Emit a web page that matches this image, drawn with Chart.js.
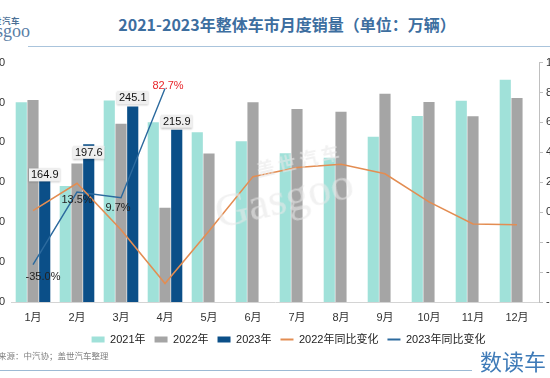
<!DOCTYPE html>
<html><head><meta charset="utf-8">
<script src="https://cdn.jsdelivr.net/npm/chart.js@4.4.1/dist/chart.umd.min.js"></script>
<style>
html,body{margin:0;padding:0;width:550px;height:378px;overflow:hidden;background:#fff;}
body{position:relative;font-family:"Noto Sans CJK SC",sans-serif;}
#wrap{position:absolute;left:-30px;top:50px;width:637px;height:305px;}
#title{position:absolute;left:0;width:574px;top:12px;line-height:24px;text-align:center;font-weight:bold;font-size:16px;color:#3d6e9f;white-space:nowrap;}
#tline{position:absolute;left:28px;right:0;top:46px;height:1px;background:#aac4dc;}
#logo1{position:absolute;left:-16px;top:14px;font-size:8.5px;font-weight:bold;color:#4b6f96;letter-spacing:0.5px;white-space:nowrap;}
#logo2{position:absolute;left:-25px;top:21px;font-family:"Liberation Serif",serif;font-size:18px;color:#5a7ea6;white-space:nowrap;line-height:20px;}
#src{position:absolute;left:-2px;top:349px;font-size:8.5px;color:#808080;white-space:nowrap;}
#fline{position:absolute;left:0;width:472px;top:370px;height:1px;background:#9dbad4;}
#brand{position:absolute;left:480px;top:348px;font-size:22px;color:#3f7bb8;white-space:nowrap;line-height:24px;}
#wm{position:absolute;left:205px;top:168px;transform:rotate(-13deg);transform-origin:left top;color:rgba(232,232,232,0.6);white-space:nowrap;pointer-events:none;}
#wm .a{font-size:18px;font-weight:bold;margin-left:50px;letter-spacing:4px;}
#wm .b{font-family:"Liberation Serif",serif;font-size:46px;line-height:42px;}
</style></head>
<body>
<div id="logo1">盖世汽车</div>
<div id="logo2">Gasgoo</div>
<div id="title">2021-2023年整体车市月度销量（单位：万辆）</div>
<div id="tline"></div>
<div id="wrap"><canvas id="c" width="637" height="305"></canvas></div>
<div id="wm"><div class="a">盖世汽车</div><div class="b">Gasgoo</div></div>
<div id="src">来源：中汽协；盖世汽车整理</div>
<div id="fline"></div>
<div id="brand">数读车</div>
<script>
const months = ['1月','2月','3月','4月','5月','6月','7月','8月','9月','10月','11月','12月'];
const sales2021 = [250.3,145.5,252.6,225.2,212.8,201.5,186.4,180.9,207.1,233.2,252.2,278.6];
const sales2022 = [253.1,173.7,223.4,118.1,186.2,250.2,242.0,238.3,261.0,250.6,232.7,255.6];
const sales2023 = [164.9,197.6,245.1,215.9,null,null,null,null,null,null,null,null];
const yoy2022 = [1.1,19.4,-11.7,-47.6,-12.6,23.8,29.9,32.1,25.7,6.9,-7.9,-8.4];
const yoy2023 = [-35.0,13.5,9.7,82.7,null,null,null,null,null,null,null,null];
const leftTicks = [0,50,100,150,200,250,300];
const rightTicks = [-60,-40,-20,0,20,40,60,80,100];

// label placement styling (pixel offsets)
const barLabelDy = [4.5, 8, -8.5, -8.5];
const pctLabelOff = [[10,12],[0,8],[-3,10],[3,-3]];
const pctLabelColor = ['#222','#222','#222','#e8262b'];

const labelPlugin = {
  id:'labels',
  afterDatasetsDraw(chart){
    const ctx = chart.ctx;
    ctx.save();
    ctx.font = '11px "Liberation Sans", Arial, sans-serif';
    ctx.textAlign='center'; ctx.textBaseline='middle';
    const barMeta = chart.getDatasetMeta(2);
    barMeta.data.forEach((el,i)=>{
      const v = sales2023[i]; if(v==null) return;
      const t = v.toFixed(1);
      const x = el.x, y = el.y + barLabelDy[i];
      const w = ctx.measureText(t).width + 4, h = 13;
      ctx.shadowColor='rgba(0,0,0,0.25)'; ctx.shadowBlur=2; ctx.shadowOffsetY=1;
      ctx.fillStyle='#efefef'; ctx.fillRect(x-w/2,y-h/2,w,h);
      ctx.shadowColor='transparent';
      ctx.fillStyle='#111'; ctx.fillText(t,x,y+0.5);
    });
    const lineMeta = chart.getDatasetMeta(4);
    lineMeta.data.forEach((el,i)=>{
      const v = yoy2023[i]; if(v==null) return;
      const t = v.toFixed(1)+'%';
      ctx.fillStyle = pctLabelColor[i];
      ctx.fillText(t, el.x+pctLabelOff[i][0], el.y+pctLabelOff[i][1]);
    });
    ctx.restore();
  }
};

Chart.defaults.font.family = '"Liberation Sans", Arial, "Noto Sans CJK SC", sans-serif';
Chart.defaults.font.size = 11;
Chart.defaults.color = '#333';

new Chart(document.getElementById('c'), {
  data:{
    labels: months,
    datasets:[
      {type:'bar',label:'2021年',data:sales2021,backgroundColor:'#a0e1d9',yAxisID:'y',order:1,categoryPercentage:0.8,barPercentage:0.95},
      {type:'bar',label:'2022年',data:sales2022,backgroundColor:'#a5a5a5',yAxisID:'y',order:1,categoryPercentage:0.8,barPercentage:0.95},
      {type:'bar',label:'2023年',data:sales2023,backgroundColor:'#0b4f88',yAxisID:'y',order:1,categoryPercentage:0.8,barPercentage:0.95},
      {type:'line',label:'2022年同比变化',data:yoy2022,borderColor:'#e38d52',backgroundColor:'#e38d52',borderWidth:1.6,pointRadius:0,tension:0,yAxisID:'y1',order:0},
      {type:'line',label:'2023年同比变化',data:yoy2023,borderColor:'#2c6a9e',backgroundColor:'#2c6a9e',borderWidth:1.4,pointRadius:0,tension:0,yAxisID:'y1',order:0}
    ]
  },
  options:{
    responsive:false, animation:false, devicePixelRatio:1,
    layout:{padding:{top:12,left:0,right:0,bottom:0}},
    plugins:{
      tooltip:{enabled:false},
      legend:{
        position:'bottom',
        labels:{
          usePointStyle:true, pointStyleWidth:13, boxHeight:6, padding:9,
          color:'#222', font:{size:11},
          sort:(a,b)=>a.datasetIndex-b.datasetIndex,
          generateLabels(chart){
            const items = Chart.defaults.plugins.legend.labels.generateLabels(chart);
            items.forEach(it=>{
              const ds = chart.data.datasets[it.datasetIndex];
              if(ds.type==='line'){ it.pointStyle='line'; it.strokeStyle=ds.borderColor; it.lineWidth=2; }
              else { it.pointStyle='rect'; it.lineWidth=0; it.fillStyle=ds.backgroundColor; }
            });
            return items;
          }
        }
      }
    },
    scales:{
      x:{grid:{display:false,drawTicks:false},border:{display:true,color:'#d4d4d4'},ticks:{padding:9,color:'#333',font:{size:11}},afterFit(s){s.height=23;}},
      y:{position:'left',min:0,max:300,
         afterBuildTicks(s){s.ticks=leftTicks.map(v=>({value:v}));},
         ticks:{padding:6,color:'#333',font:{size:11}},
         grid:{display:false,drawTicks:false},border:{display:false},afterFit(s){s.width=41;}},
      y1:{position:'right',min:-60,max:100,
         afterBuildTicks(s){s.ticks=rightTicks.map(v=>({value:v}));},
         ticks:{padding:3,color:'#333',font:{size:11},callback:v=>v+'%'},
         grid:{drawOnChartArea:false,drawTicks:true,tickLength:4,color:'#bfbfbf'},
         border:{display:true,color:'#bfbfbf'},afterFit(s){s.width=68;}}
    }
  },
  plugins:[labelPlugin]
});
</script>
</body></html>
